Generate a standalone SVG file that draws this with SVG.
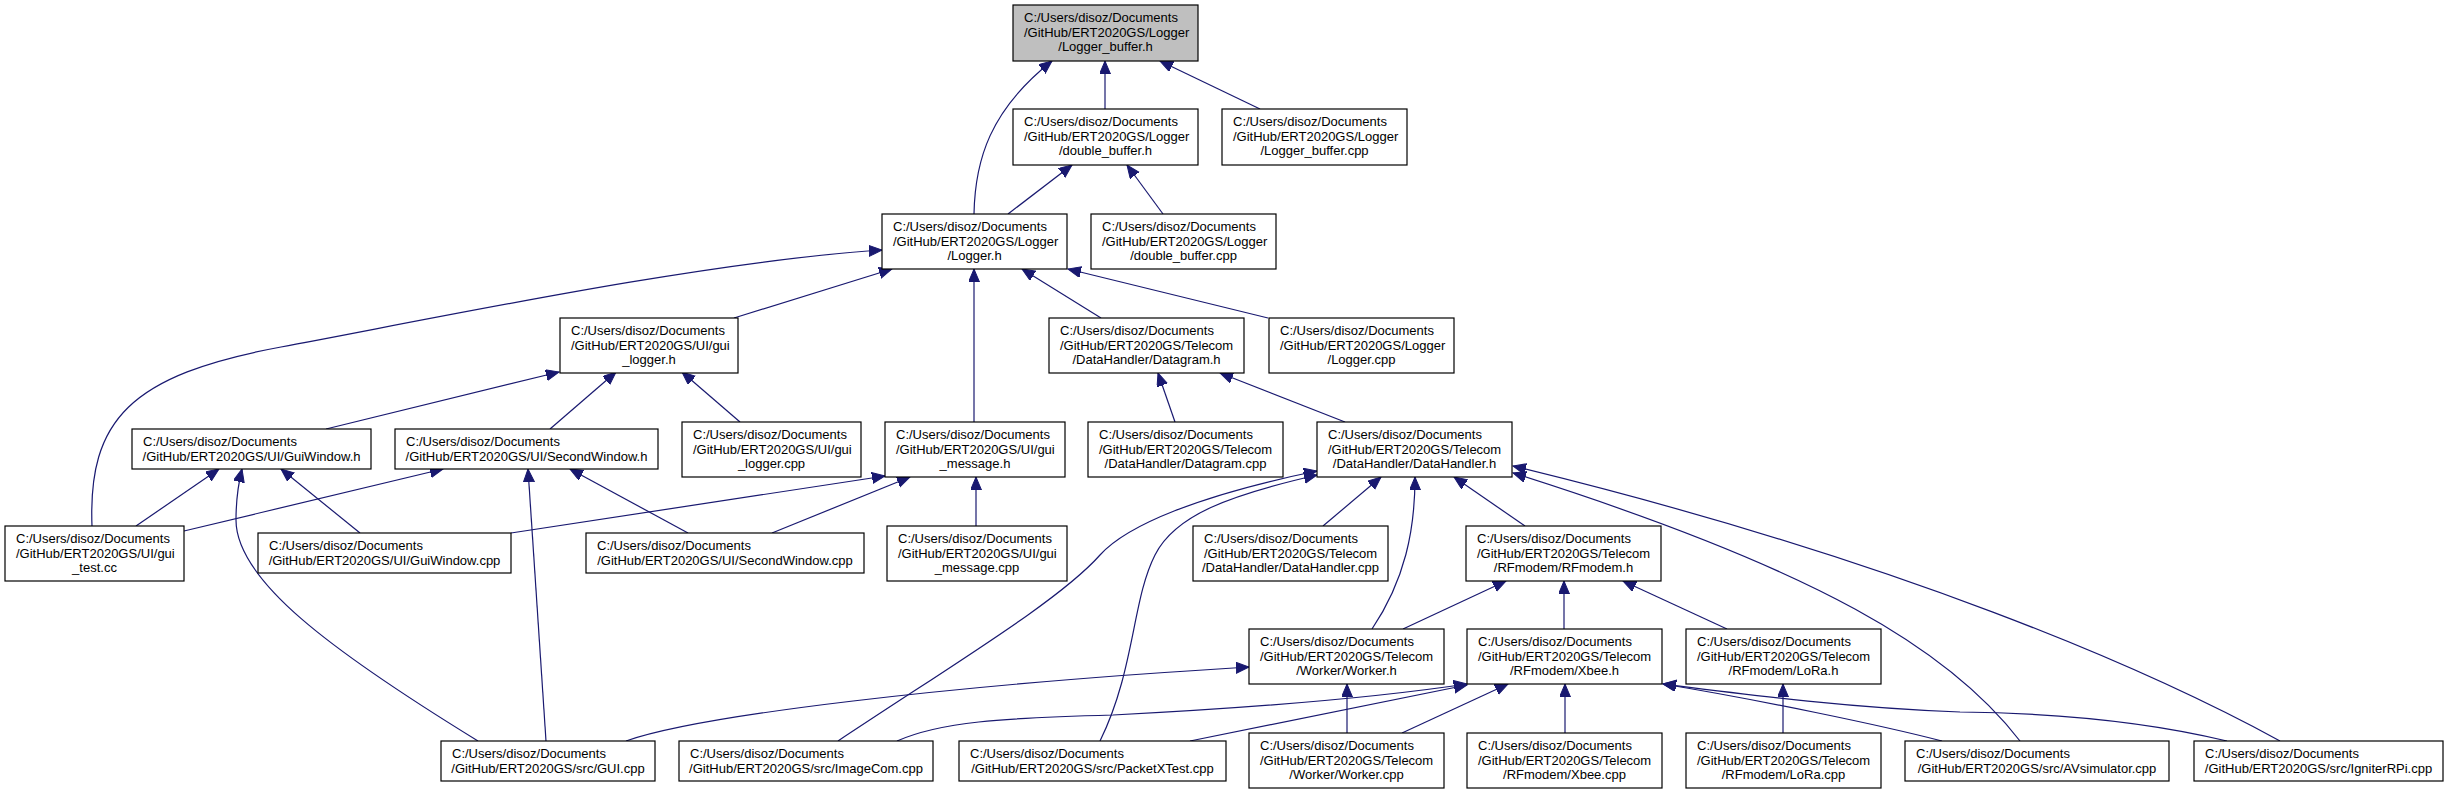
<svg xmlns="http://www.w3.org/2000/svg" width="2449" height="795" viewBox="0 0 2449 795">
<style>
.box{fill:#fff;stroke:#000;stroke-width:1.2}
.root{fill:#bfbfbf}
.t{font-family:"Liberation Sans",Arial,Helvetica,sans-serif;font-size:13px;fill:#000}
.c{text-anchor:middle}
.e{fill:none;stroke:#191970;stroke-width:1.2;marker-end:url(#ah)}
</style>
<defs>
<marker id="ah" markerUnits="userSpaceOnUse" markerWidth="16" markerHeight="14" refX="13" refY="5.5" orient="auto">
<path d="M0,0 L13,5.5 L0,11 Z" fill="#191970" stroke="#191970" stroke-width="1"/>
</marker>
</defs>
<rect width="2449" height="795" fill="#fff"/>
<g id="connectors">
<path class="e" d="M974,214 C975,160 990,110 1052,61"/>
<path class="e" d="M1105,109 L1105,61"/>
<path class="e" d="M1260,109 L1160,61"/>
<path class="e" d="M1008,214 L1072,165"/>
<path class="e" d="M1163,214 L1127,165"/>
<path class="e" d="M92,526 C88,420 130,375 281,347 C432,319 700,262 882,250"/>
<path class="e" d="M734,318 L892,269"/>
<path class="e" d="M974,422 L974,269"/>
<path class="e" d="M1101,318 L1022,269"/>
<path class="e" d="M1268,318 L1068,269"/>
<path class="e" d="M326,429 L559,372"/>
<path class="e" d="M550,429 L616,372"/>
<path class="e" d="M740,422 L682,372"/>
<path class="e" d="M136,526 L219,469"/>
<path class="e" d="M478,741 C330,650 236,580 236,520 C236,500 238,485 242,469"/>
<path class="e" d="M360,533 L281,469"/>
<path class="e" d="M184,531 L443,469"/>
<path class="e" d="M546,741 L528,469"/>
<path class="e" d="M688,533 L570,469"/>
<path class="e" d="M511,533 L885,476"/>
<path class="e" d="M772,533 L910,477"/>
<path class="e" d="M976,526 L976,477"/>
<path class="e" d="M1175,422 L1158,373"/>
<path class="e" d="M1345,422 L1220,373"/>
<path class="e" d="M1323,526 L1381,477"/>
<path class="e" d="M1525,526 L1454,477"/>
<path class="e" d="M1372,629 C1405,580 1415,530 1415,477"/>
<path class="e" d="M1403,629 L1506,581"/>
<path class="e" d="M1564,629 L1564,581"/>
<path class="e" d="M1727,629 L1623,581"/>
<path class="e" d="M838,741 C960,660 1060,600 1100,555 C1127,525 1200,495 1317,471"/>
<path class="e" d="M1100,741 C1135,670 1132,600 1155,555 C1175,515 1230,495 1317,475"/>
<path class="e" d="M626,741 C700,715 950,685 1249,667"/>
<path class="e" d="M897,741 C940,722 1000,718 1113,715 C1250,708 1380,697 1467,684"/>
<path class="e" d="M1190,741 L1467,685"/>
<path class="e" d="M1347,733 L1347,684"/>
<path class="e" d="M1402,733 L1508,684"/>
<path class="e" d="M1565,733 L1565,684"/>
<path class="e" d="M1783,733 L1783,684"/>
<path class="e" d="M1942,741 C1880,725 1760,700 1663,684"/>
<path class="e" d="M2227,741 C2140,720 2050,713 1960,712 C1850,708 1750,695 1663,684"/>
<path class="e" d="M2020,741 C1950,650 1820,570 1513,473"/>
<path class="e" d="M2280,741 C2150,670 1900,560 1513,466"/>
</g>
<g id="n_logger_buffer_h"><rect class="box root" x="1013" y="5" width="185" height="56"/><text class="t"><tspan x="1024" y="22">C:/Users/disoz/Documents</tspan><tspan x="1024" y="36.5">/GitHub/ERT2020GS/Logger</tspan><tspan class="c" x="1105.5" y="51">/Logger_buffer.h</tspan></text></g>
<g id="n_double_buffer_h"><rect class="box" x="1013" y="109" width="185" height="56"/><text class="t"><tspan x="1024" y="126">C:/Users/disoz/Documents</tspan><tspan x="1024" y="140.5">/GitHub/ERT2020GS/Logger</tspan><tspan class="c" x="1105.5" y="155">/double_buffer.h</tspan></text></g>
<g id="n_logger_buffer_cpp"><rect class="box" x="1222" y="109" width="185" height="56"/><text class="t"><tspan x="1233" y="126">C:/Users/disoz/Documents</tspan><tspan x="1233" y="140.5">/GitHub/ERT2020GS/Logger</tspan><tspan class="c" x="1314.5" y="155">/Logger_buffer.cpp</tspan></text></g>
<g id="n_logger_h"><rect class="box" x="882" y="214" width="185" height="55"/><text class="t"><tspan x="893" y="231">C:/Users/disoz/Documents</tspan><tspan x="893" y="245.5">/GitHub/ERT2020GS/Logger</tspan><tspan class="c" x="974.5" y="260">/Logger.h</tspan></text></g>
<g id="n_double_buffer_cpp"><rect class="box" x="1091" y="214" width="185" height="55"/><text class="t"><tspan x="1102" y="231">C:/Users/disoz/Documents</tspan><tspan x="1102" y="245.5">/GitHub/ERT2020GS/Logger</tspan><tspan class="c" x="1183.5" y="260">/double_buffer.cpp</tspan></text></g>
<g id="n_gui_logger_h"><rect class="box" x="560" y="318" width="178" height="55"/><text class="t"><tspan x="571" y="335">C:/Users/disoz/Documents</tspan><tspan x="571" y="349.5">/GitHub/ERT2020GS/UI/gui</tspan><tspan class="c" x="649" y="364">_logger.h</tspan></text></g>
<g id="n_datagram_h"><rect class="box" x="1049" y="318" width="195" height="55"/><text class="t"><tspan x="1060" y="335">C:/Users/disoz/Documents</tspan><tspan x="1060" y="349.5">/GitHub/ERT2020GS/Telecom</tspan><tspan class="c" x="1146.5" y="364">/DataHandler/Datagram.h</tspan></text></g>
<g id="n_logger_cpp"><rect class="box" x="1269" y="318" width="185" height="55"/><text class="t"><tspan x="1280" y="335">C:/Users/disoz/Documents</tspan><tspan x="1280" y="349.5">/GitHub/ERT2020GS/Logger</tspan><tspan class="c" x="1361.5" y="364">/Logger.cpp</tspan></text></g>
<g id="n_guiwindow_h"><rect class="box" x="132" y="429" width="239" height="40"/><text class="t"><tspan x="143" y="446">C:/Users/disoz/Documents</tspan><tspan class="c" x="251.5" y="460.5">/GitHub/ERT2020GS/UI/GuiWindow.h</tspan></text></g>
<g id="n_secondwindow_h"><rect class="box" x="395" y="429" width="263" height="40"/><text class="t"><tspan x="406" y="446">C:/Users/disoz/Documents</tspan><tspan class="c" x="526.5" y="460.5">/GitHub/ERT2020GS/UI/SecondWindow.h</tspan></text></g>
<g id="n_gui_logger_cpp"><rect class="box" x="682" y="422" width="179" height="55"/><text class="t"><tspan x="693" y="439">C:/Users/disoz/Documents</tspan><tspan x="693" y="453.5">/GitHub/ERT2020GS/UI/gui</tspan><tspan class="c" x="771.5" y="468">_logger.cpp</tspan></text></g>
<g id="n_gui_message_h"><rect class="box" x="885" y="422" width="180" height="55"/><text class="t"><tspan x="896" y="439">C:/Users/disoz/Documents</tspan><tspan x="896" y="453.5">/GitHub/ERT2020GS/UI/gui</tspan><tspan class="c" x="975" y="468">_message.h</tspan></text></g>
<g id="n_datagram_cpp"><rect class="box" x="1088" y="422" width="195" height="55"/><text class="t"><tspan x="1099" y="439">C:/Users/disoz/Documents</tspan><tspan x="1099" y="453.5">/GitHub/ERT2020GS/Telecom</tspan><tspan class="c" x="1185.5" y="468">/DataHandler/Datagram.cpp</tspan></text></g>
<g id="n_datahandler_h"><rect class="box" x="1317" y="422" width="195" height="55"/><text class="t"><tspan x="1328" y="439">C:/Users/disoz/Documents</tspan><tspan x="1328" y="453.5">/GitHub/ERT2020GS/Telecom</tspan><tspan class="c" x="1414.5" y="468">/DataHandler/DataHandler.h</tspan></text></g>
<g id="n_gui_test_cc"><rect class="box" x="5" y="526" width="179" height="55"/><text class="t"><tspan x="16" y="543">C:/Users/disoz/Documents</tspan><tspan x="16" y="557.5">/GitHub/ERT2020GS/UI/gui</tspan><tspan class="c" x="94.5" y="572">_test.cc</tspan></text></g>
<g id="n_guiwindow_cpp"><rect class="box" x="258" y="533" width="253" height="40"/><text class="t"><tspan x="269" y="550">C:/Users/disoz/Documents</tspan><tspan class="c" x="384.5" y="564.5">/GitHub/ERT2020GS/UI/GuiWindow.cpp</tspan></text></g>
<g id="n_secondwindow_cpp"><rect class="box" x="586" y="533" width="278" height="40"/><text class="t"><tspan x="597" y="550">C:/Users/disoz/Documents</tspan><tspan class="c" x="725" y="564.5">/GitHub/ERT2020GS/UI/SecondWindow.cpp</tspan></text></g>
<g id="n_gui_message_cpp"><rect class="box" x="887" y="526" width="180" height="55"/><text class="t"><tspan x="898" y="543">C:/Users/disoz/Documents</tspan><tspan x="898" y="557.5">/GitHub/ERT2020GS/UI/gui</tspan><tspan class="c" x="977" y="572">_message.cpp</tspan></text></g>
<g id="n_datahandler_cpp"><rect class="box" x="1193" y="526" width="195" height="55"/><text class="t"><tspan x="1204" y="543">C:/Users/disoz/Documents</tspan><tspan x="1204" y="557.5">/GitHub/ERT2020GS/Telecom</tspan><tspan class="c" x="1290.5" y="572">/DataHandler/DataHandler.cpp</tspan></text></g>
<g id="n_rfmodem_h"><rect class="box" x="1466" y="526" width="195" height="55"/><text class="t"><tspan x="1477" y="543">C:/Users/disoz/Documents</tspan><tspan x="1477" y="557.5">/GitHub/ERT2020GS/Telecom</tspan><tspan class="c" x="1563.5" y="572">/RFmodem/RFmodem.h</tspan></text></g>
<g id="n_worker_h"><rect class="box" x="1249" y="629" width="195" height="55"/><text class="t"><tspan x="1260" y="646">C:/Users/disoz/Documents</tspan><tspan x="1260" y="660.5">/GitHub/ERT2020GS/Telecom</tspan><tspan class="c" x="1346.5" y="675">/Worker/Worker.h</tspan></text></g>
<g id="n_xbee_h"><rect class="box" x="1467" y="629" width="195" height="55"/><text class="t"><tspan x="1478" y="646">C:/Users/disoz/Documents</tspan><tspan x="1478" y="660.5">/GitHub/ERT2020GS/Telecom</tspan><tspan class="c" x="1564.5" y="675">/RFmodem/Xbee.h</tspan></text></g>
<g id="n_lora_h"><rect class="box" x="1686" y="629" width="195" height="55"/><text class="t"><tspan x="1697" y="646">C:/Users/disoz/Documents</tspan><tspan x="1697" y="660.5">/GitHub/ERT2020GS/Telecom</tspan><tspan class="c" x="1783.5" y="675">/RFmodem/LoRa.h</tspan></text></g>
<g id="n_gui_cpp"><rect class="box" x="441" y="741" width="214" height="40"/><text class="t"><tspan x="452" y="758">C:/Users/disoz/Documents</tspan><tspan class="c" x="548" y="772.5">/GitHub/ERT2020GS/src/GUI.cpp</tspan></text></g>
<g id="n_imagecom_cpp"><rect class="box" x="679" y="741" width="254" height="40"/><text class="t"><tspan x="690" y="758">C:/Users/disoz/Documents</tspan><tspan class="c" x="806" y="772.5">/GitHub/ERT2020GS/src/ImageCom.cpp</tspan></text></g>
<g id="n_packetxtest_cpp"><rect class="box" x="959" y="741" width="267" height="40"/><text class="t"><tspan x="970" y="758">C:/Users/disoz/Documents</tspan><tspan class="c" x="1092.5" y="772.5">/GitHub/ERT2020GS/src/PacketXTest.cpp</tspan></text></g>
<g id="n_worker_cpp"><rect class="box" x="1249" y="733" width="195" height="55"/><text class="t"><tspan x="1260" y="750">C:/Users/disoz/Documents</tspan><tspan x="1260" y="764.5">/GitHub/ERT2020GS/Telecom</tspan><tspan class="c" x="1346.5" y="779">/Worker/Worker.cpp</tspan></text></g>
<g id="n_xbee_cpp"><rect class="box" x="1467" y="733" width="195" height="55"/><text class="t"><tspan x="1478" y="750">C:/Users/disoz/Documents</tspan><tspan x="1478" y="764.5">/GitHub/ERT2020GS/Telecom</tspan><tspan class="c" x="1564.5" y="779">/RFmodem/Xbee.cpp</tspan></text></g>
<g id="n_lora_cpp"><rect class="box" x="1686" y="733" width="195" height="55"/><text class="t"><tspan x="1697" y="750">C:/Users/disoz/Documents</tspan><tspan x="1697" y="764.5">/GitHub/ERT2020GS/Telecom</tspan><tspan class="c" x="1783.5" y="779">/RFmodem/LoRa.cpp</tspan></text></g>
<g id="n_avsimulator_cpp"><rect class="box" x="1905" y="741" width="264" height="40"/><text class="t"><tspan x="1916" y="758">C:/Users/disoz/Documents</tspan><tspan class="c" x="2037" y="772.5">/GitHub/ERT2020GS/src/AVsimulator.cpp</tspan></text></g>
<g id="n_igniterrpi_cpp"><rect class="box" x="2194" y="741" width="249" height="40"/><text class="t"><tspan x="2205" y="758">C:/Users/disoz/Documents</tspan><tspan class="c" x="2318.5" y="772.5">/GitHub/ERT2020GS/src/IgniterRPi.cpp</tspan></text></g>
</svg>
